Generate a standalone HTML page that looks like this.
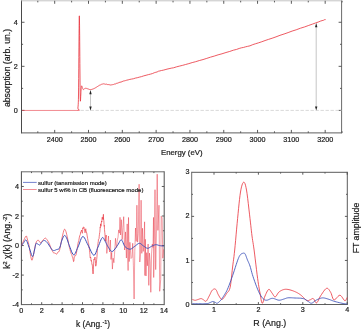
<!DOCTYPE html>
<html><head><meta charset="utf-8"><style>
html,body{margin:0;padding:0;background:#fff;}
body{width:361px;height:329px;overflow:hidden;}
svg{display:block;filter:blur(0.3px);font-family:"Liberation Sans", sans-serif;fill:#111;}
text{fill:#1a1a1a;stroke:#1a1a1a;stroke-width:0.2px;}
</style></head><body>
<svg width="361" height="329" viewBox="0 0 361 329">
<path d="M21.50 0.30V133.40" stroke="#4a4a4a" stroke-width="1.0" fill="none"/>
<path d="M341.60 0.30V133.40" stroke="#6a6a6a" stroke-width="1.0" fill="none"/>
<path d="M21.50 0.80H341.60" stroke="#c4c4c4" stroke-width="1.0" fill="none"/>
<path d="M21.50 132.90H341.60" stroke="#5e5e5e" stroke-width="1.0" fill="none"/>
<line x1="37.80" y1="132.90" x2="37.80" y2="131.30" stroke="#4a4a4a" stroke-width="0.9" />
<line x1="37.80" y1="0.80" x2="37.80" y2="2.40" stroke="#4a4a4a" stroke-width="0.9" />
<line x1="54.70" y1="132.90" x2="54.70" y2="129.90" stroke="#4a4a4a" stroke-width="0.9" />
<line x1="54.70" y1="0.80" x2="54.70" y2="3.80" stroke="#4a4a4a" stroke-width="0.9" />
<line x1="71.61" y1="132.90" x2="71.61" y2="131.30" stroke="#4a4a4a" stroke-width="0.9" />
<line x1="71.61" y1="0.80" x2="71.61" y2="2.40" stroke="#4a4a4a" stroke-width="0.9" />
<line x1="88.51" y1="132.90" x2="88.51" y2="129.90" stroke="#4a4a4a" stroke-width="0.9" />
<line x1="88.51" y1="0.80" x2="88.51" y2="3.80" stroke="#4a4a4a" stroke-width="0.9" />
<line x1="105.42" y1="132.90" x2="105.42" y2="131.30" stroke="#4a4a4a" stroke-width="0.9" />
<line x1="105.42" y1="0.80" x2="105.42" y2="2.40" stroke="#4a4a4a" stroke-width="0.9" />
<line x1="122.32" y1="132.90" x2="122.32" y2="129.90" stroke="#4a4a4a" stroke-width="0.9" />
<line x1="122.32" y1="0.80" x2="122.32" y2="3.80" stroke="#4a4a4a" stroke-width="0.9" />
<line x1="139.23" y1="132.90" x2="139.23" y2="131.30" stroke="#4a4a4a" stroke-width="0.9" />
<line x1="139.23" y1="0.80" x2="139.23" y2="2.40" stroke="#4a4a4a" stroke-width="0.9" />
<line x1="156.13" y1="132.90" x2="156.13" y2="129.90" stroke="#4a4a4a" stroke-width="0.9" />
<line x1="156.13" y1="0.80" x2="156.13" y2="3.80" stroke="#4a4a4a" stroke-width="0.9" />
<line x1="173.04" y1="132.90" x2="173.04" y2="131.30" stroke="#4a4a4a" stroke-width="0.9" />
<line x1="173.04" y1="0.80" x2="173.04" y2="2.40" stroke="#4a4a4a" stroke-width="0.9" />
<line x1="189.94" y1="132.90" x2="189.94" y2="129.90" stroke="#4a4a4a" stroke-width="0.9" />
<line x1="189.94" y1="0.80" x2="189.94" y2="3.80" stroke="#4a4a4a" stroke-width="0.9" />
<line x1="206.85" y1="132.90" x2="206.85" y2="131.30" stroke="#4a4a4a" stroke-width="0.9" />
<line x1="206.85" y1="0.80" x2="206.85" y2="2.40" stroke="#4a4a4a" stroke-width="0.9" />
<line x1="223.75" y1="132.90" x2="223.75" y2="129.90" stroke="#4a4a4a" stroke-width="0.9" />
<line x1="223.75" y1="0.80" x2="223.75" y2="3.80" stroke="#4a4a4a" stroke-width="0.9" />
<line x1="240.66" y1="132.90" x2="240.66" y2="131.30" stroke="#4a4a4a" stroke-width="0.9" />
<line x1="240.66" y1="0.80" x2="240.66" y2="2.40" stroke="#4a4a4a" stroke-width="0.9" />
<line x1="257.56" y1="132.90" x2="257.56" y2="129.90" stroke="#4a4a4a" stroke-width="0.9" />
<line x1="257.56" y1="0.80" x2="257.56" y2="3.80" stroke="#4a4a4a" stroke-width="0.9" />
<line x1="274.47" y1="132.90" x2="274.47" y2="131.30" stroke="#4a4a4a" stroke-width="0.9" />
<line x1="274.47" y1="0.80" x2="274.47" y2="2.40" stroke="#4a4a4a" stroke-width="0.9" />
<line x1="291.37" y1="132.90" x2="291.37" y2="129.90" stroke="#4a4a4a" stroke-width="0.9" />
<line x1="291.37" y1="0.80" x2="291.37" y2="3.80" stroke="#4a4a4a" stroke-width="0.9" />
<line x1="308.28" y1="132.90" x2="308.28" y2="131.30" stroke="#4a4a4a" stroke-width="0.9" />
<line x1="308.28" y1="0.80" x2="308.28" y2="2.40" stroke="#4a4a4a" stroke-width="0.9" />
<line x1="325.18" y1="132.90" x2="325.18" y2="129.90" stroke="#4a4a4a" stroke-width="0.9" />
<line x1="325.18" y1="0.80" x2="325.18" y2="3.80" stroke="#4a4a4a" stroke-width="0.9" />
<line x1="342.08" y1="132.90" x2="342.08" y2="131.30" stroke="#4a4a4a" stroke-width="0.9" />
<line x1="342.08" y1="0.80" x2="342.08" y2="2.40" stroke="#4a4a4a" stroke-width="0.9" />
<text x="54.70" y="142.20" font-size="7.2" text-anchor="middle" >2400</text>
<text x="88.51" y="142.20" font-size="7.2" text-anchor="middle" >2500</text>
<text x="122.32" y="142.20" font-size="7.2" text-anchor="middle" >2600</text>
<text x="156.13" y="142.20" font-size="7.2" text-anchor="middle" >2700</text>
<text x="189.94" y="142.20" font-size="7.2" text-anchor="middle" >2800</text>
<text x="223.75" y="142.20" font-size="7.2" text-anchor="middle" >2900</text>
<text x="257.56" y="142.20" font-size="7.2" text-anchor="middle" >3000</text>
<text x="291.37" y="142.20" font-size="7.2" text-anchor="middle" >3100</text>
<text x="325.18" y="142.20" font-size="7.2" text-anchor="middle" >3200</text>
<line x1="21.50" y1="110.40" x2="24.50" y2="110.40" stroke="#4a4a4a" stroke-width="0.9" />
<line x1="341.60" y1="110.40" x2="338.60" y2="110.40" stroke="#4a4a4a" stroke-width="0.9" />
<line x1="21.50" y1="88.37" x2="23.10" y2="88.37" stroke="#4a4a4a" stroke-width="0.9" />
<line x1="341.60" y1="88.37" x2="340.00" y2="88.37" stroke="#4a4a4a" stroke-width="0.9" />
<line x1="21.50" y1="66.34" x2="24.50" y2="66.34" stroke="#4a4a4a" stroke-width="0.9" />
<line x1="341.60" y1="66.34" x2="338.60" y2="66.34" stroke="#4a4a4a" stroke-width="0.9" />
<line x1="21.50" y1="44.31" x2="23.10" y2="44.31" stroke="#4a4a4a" stroke-width="0.9" />
<line x1="341.60" y1="44.31" x2="340.00" y2="44.31" stroke="#4a4a4a" stroke-width="0.9" />
<line x1="21.50" y1="22.28" x2="24.50" y2="22.28" stroke="#4a4a4a" stroke-width="0.9" />
<line x1="341.60" y1="22.28" x2="338.60" y2="22.28" stroke="#4a4a4a" stroke-width="0.9" />
<text x="17.80" y="113.00" font-size="7.2" text-anchor="end" >0</text>
<text x="17.80" y="68.94" font-size="7.2" text-anchor="end" >2</text>
<text x="17.80" y="24.88" font-size="7.2" text-anchor="end" >4</text>
<text x="10.00" y="68.00" font-size="8.7" text-anchor="middle" transform="rotate(-90 10 68)">absorption (arb. un.)</text>
<text x="181.80" y="155.10" font-size="7.8" text-anchor="middle" >Energy (eV)</text>
<line x1="80.50" y1="110.40" x2="341.60" y2="110.40" stroke="#cfcfcf" stroke-width="0.8" stroke-dasharray="3.4 1.6"/>
<path d="M22.00 110.45H77.2" fill="none" stroke="#ea4a55" stroke-width="0.65"/>
<path d="M77.20 110.40L78.85 110.26L79.40 110.17L79.21 110.01L78.66 109.67L78.10 109.04L77.90 108.00L78.01 106.93L78.11 106.01L78.21 104.79L78.31 102.84L78.41 99.72L78.50 95.00L78.59 87.91L78.68 78.63L78.77 68.19L78.85 57.59L78.93 47.86L79.00 40.00L79.06 33.77L79.11 28.30L79.16 23.69L79.21 20.04L79.25 17.44L79.30 16.00L79.35 15.83L79.40 16.89L79.45 19.00L79.50 22.00L79.55 25.72L79.60 30.00L79.66 35.28L79.71 41.78L79.77 49.00L79.83 56.44L79.89 63.61L79.95 70.00L80.01 75.98L80.06 82.04L80.12 87.81L80.17 92.96L80.23 97.14L80.30 100.00L80.38 101.22L80.46 101.00L80.55 99.81L80.64 98.11L80.72 96.35L80.80 95.00L80.87 93.89L80.94 92.64L81.00 91.33L81.06 90.05L81.13 88.91L81.20 88.00L81.27 87.30L81.35 86.75L81.43 86.32L81.51 86.03L81.60 85.86L81.70 85.80L81.81 85.92L81.94 86.23L82.08 86.66L82.21 87.15L82.36 87.62L82.50 88.00L82.64 88.33L82.78 88.67L82.92 89.00L83.07 89.28L83.23 89.49L83.40 89.60L83.58 89.58L83.77 89.43L83.97 89.22L84.17 88.98L84.38 88.76L84.60 88.60L84.81 88.50L85.03 88.41L85.25 88.35L85.48 88.31L85.73 88.29L86.00 88.30L86.30 88.35L86.61 88.43L86.95 88.54L87.30 88.66L87.65 88.78L88.00 88.90L88.35 89.03L88.70 89.17L89.05 89.33L89.41 89.46L89.80 89.56L90.20 89.60L90.63 89.59L91.08 89.53L91.55 89.44L92.03 89.31L92.51 89.17L93.00 89.00L93.49 88.81L93.99 88.58L94.49 88.33L94.99 88.06L95.50 87.78L96.00 87.53L96.51 87.17L97.02 86.78L97.53 86.49L98.04 86.10L98.53 85.89L99.00 85.73L99.45 85.30L99.89 85.06L100.31 84.96L100.71 84.75L101.11 84.56L101.50 84.31L101.87 84.28L102.22 84.25L102.56 83.97L102.89 84.01L103.24 83.83L103.60 83.87L103.98 83.82L104.36 84.02L104.74 83.97L105.14 84.19L105.56 84.25L106.00 84.28L106.47 84.13L106.96 84.42L107.46 84.56L107.98 84.67L108.49 84.59L109.00 84.75L109.50 84.74L110.00 84.79L110.50 84.99L111.00 84.80L111.50 84.85L112.00 84.89L112.47 84.67L112.89 84.63L113.31 84.54L113.78 84.40L114.33 84.10L115.00 84.01L115.81 83.86L116.73 83.24L117.74 83.12L118.80 82.66L119.90 82.20L121.00 82.10L122.09 81.63L123.17 81.10L124.28 80.89L125.47 80.59L126.76 80.16L128.20 79.87L129.80 79.40L131.53 79.08L133.37 78.75L135.29 78.11L137.28 77.73L139.30 77.15L141.44 76.64L143.73 75.87L146.09 75.26L148.41 74.62L150.61 74.09L152.60 73.51L154.30 72.73L155.77 72.29L157.12 71.96L158.45 71.23L159.88 70.93L161.50 70.49L163.27 70.17L165.09 69.68L167.00 69.14L169.04 68.68L171.26 68.17L173.70 67.75L176.38 66.88L179.27 66.15L182.33 65.42L185.53 64.53L188.84 63.62L192.20 62.59L195.67 61.69L199.30 60.55L203.02 59.57L206.79 58.36L210.57 57.13L214.30 56.07L218.09 54.83L222.01 53.79L225.94 52.52L229.74 51.45L233.30 50.21L236.50 49.43L239.20 48.46L241.46 47.81L243.48 47.44L245.45 46.85L247.56 46.36L250.00 45.82L252.73 44.65L255.61 43.72L258.62 42.80L261.77 41.75L265.06 40.56L268.50 39.38L272.14 38.22L275.99 36.87L279.99 35.32L284.05 34.00L288.11 32.59L292.10 31.09L296.18 29.80L300.44 28.21L304.70 26.90L308.77 25.40L312.47 24.10L315.60 22.94L318.16 22.09L320.30 21.16L322.07 20.62L323.51 20.27L324.67 19.61L325.60 19.58" fill="none" stroke="#e8303a" stroke-width="0.8" stroke-linejoin="round"/>
<line x1="90.50" y1="93.50" x2="90.50" y2="107.30" stroke="#a0a0a0" stroke-width="0.6" />
<path d="M90.50 90.00L89.30 94.20L91.70 94.20Z" fill="#222"/>
<path d="M90.50 110.80L89.30 106.60L91.70 106.60Z" fill="#222"/>
<line x1="316.20" y1="26.50" x2="316.20" y2="107.10" stroke="#a0a0a0" stroke-width="0.6" />
<path d="M316.20 23.00L315.00 27.20L317.40 27.20Z" fill="#222"/>
<path d="M316.20 110.60L315.00 106.40L317.40 106.40Z" fill="#222"/>
<path d="M21.40 171.30V305.10" stroke="#4a4a4a" stroke-width="1.0" fill="none"/>
<path d="M164.20 171.30V305.10" stroke="#4e4e4e" stroke-width="1.0" fill="none"/>
<path d="M21.40 171.80H164.20" stroke="#6a6a6a" stroke-width="1.0" fill="none"/>
<path d="M21.40 304.60H164.20" stroke="#5e5e5e" stroke-width="1.0" fill="none"/>
<line x1="31.50" y1="304.60" x2="31.50" y2="303.30" stroke="#4a4a4a" stroke-width="0.9" />
<line x1="31.50" y1="171.80" x2="31.50" y2="173.10" stroke="#4a4a4a" stroke-width="0.9" />
<line x1="41.70" y1="304.60" x2="41.70" y2="302.20" stroke="#4a4a4a" stroke-width="0.9" />
<line x1="41.70" y1="171.80" x2="41.70" y2="174.20" stroke="#4a4a4a" stroke-width="0.9" />
<line x1="51.90" y1="304.60" x2="51.90" y2="303.30" stroke="#4a4a4a" stroke-width="0.9" />
<line x1="51.90" y1="171.80" x2="51.90" y2="173.10" stroke="#4a4a4a" stroke-width="0.9" />
<line x1="62.10" y1="304.60" x2="62.10" y2="302.20" stroke="#4a4a4a" stroke-width="0.9" />
<line x1="62.10" y1="171.80" x2="62.10" y2="174.20" stroke="#4a4a4a" stroke-width="0.9" />
<line x1="72.30" y1="304.60" x2="72.30" y2="303.30" stroke="#4a4a4a" stroke-width="0.9" />
<line x1="72.30" y1="171.80" x2="72.30" y2="173.10" stroke="#4a4a4a" stroke-width="0.9" />
<line x1="82.50" y1="304.60" x2="82.50" y2="302.20" stroke="#4a4a4a" stroke-width="0.9" />
<line x1="82.50" y1="171.80" x2="82.50" y2="174.20" stroke="#4a4a4a" stroke-width="0.9" />
<line x1="92.70" y1="304.60" x2="92.70" y2="303.30" stroke="#4a4a4a" stroke-width="0.9" />
<line x1="92.70" y1="171.80" x2="92.70" y2="173.10" stroke="#4a4a4a" stroke-width="0.9" />
<line x1="102.90" y1="304.60" x2="102.90" y2="302.20" stroke="#4a4a4a" stroke-width="0.9" />
<line x1="102.90" y1="171.80" x2="102.90" y2="174.20" stroke="#4a4a4a" stroke-width="0.9" />
<line x1="113.10" y1="304.60" x2="113.10" y2="303.30" stroke="#4a4a4a" stroke-width="0.9" />
<line x1="113.10" y1="171.80" x2="113.10" y2="173.10" stroke="#4a4a4a" stroke-width="0.9" />
<line x1="123.30" y1="304.60" x2="123.30" y2="302.20" stroke="#4a4a4a" stroke-width="0.9" />
<line x1="123.30" y1="171.80" x2="123.30" y2="174.20" stroke="#4a4a4a" stroke-width="0.9" />
<line x1="133.50" y1="304.60" x2="133.50" y2="303.30" stroke="#4a4a4a" stroke-width="0.9" />
<line x1="133.50" y1="171.80" x2="133.50" y2="173.10" stroke="#4a4a4a" stroke-width="0.9" />
<line x1="143.70" y1="304.60" x2="143.70" y2="302.20" stroke="#4a4a4a" stroke-width="0.9" />
<line x1="143.70" y1="171.80" x2="143.70" y2="174.20" stroke="#4a4a4a" stroke-width="0.9" />
<line x1="153.90" y1="304.60" x2="153.90" y2="303.30" stroke="#4a4a4a" stroke-width="0.9" />
<line x1="153.90" y1="171.80" x2="153.90" y2="173.10" stroke="#4a4a4a" stroke-width="0.9" />
<text x="21.30" y="313.00" font-size="7.2" text-anchor="middle" >0</text>
<text x="41.70" y="313.00" font-size="7.2" text-anchor="middle" >2</text>
<text x="62.10" y="313.00" font-size="7.2" text-anchor="middle" >4</text>
<text x="82.50" y="313.00" font-size="7.2" text-anchor="middle" >6</text>
<text x="102.90" y="313.00" font-size="7.2" text-anchor="middle" >8</text>
<text x="123.30" y="313.00" font-size="7.2" text-anchor="middle" >10</text>
<text x="143.70" y="313.00" font-size="7.2" text-anchor="middle" >12</text>
<text x="164.10" y="313.00" font-size="7.2" text-anchor="middle" >14</text>
<line x1="21.40" y1="289.86" x2="22.70" y2="289.86" stroke="#4a4a4a" stroke-width="0.9" />
<line x1="164.20" y1="289.86" x2="162.90" y2="289.86" stroke="#4a4a4a" stroke-width="0.9" />
<line x1="21.40" y1="275.09" x2="23.80" y2="275.09" stroke="#4a4a4a" stroke-width="0.9" />
<line x1="164.20" y1="275.09" x2="161.80" y2="275.09" stroke="#4a4a4a" stroke-width="0.9" />
<line x1="21.40" y1="260.32" x2="22.70" y2="260.32" stroke="#4a4a4a" stroke-width="0.9" />
<line x1="164.20" y1="260.32" x2="162.90" y2="260.32" stroke="#4a4a4a" stroke-width="0.9" />
<line x1="21.40" y1="245.55" x2="23.80" y2="245.55" stroke="#4a4a4a" stroke-width="0.9" />
<line x1="164.20" y1="245.55" x2="161.80" y2="245.55" stroke="#4a4a4a" stroke-width="0.9" />
<line x1="21.40" y1="230.78" x2="22.70" y2="230.78" stroke="#4a4a4a" stroke-width="0.9" />
<line x1="164.20" y1="230.78" x2="162.90" y2="230.78" stroke="#4a4a4a" stroke-width="0.9" />
<line x1="21.40" y1="216.01" x2="23.80" y2="216.01" stroke="#4a4a4a" stroke-width="0.9" />
<line x1="164.20" y1="216.01" x2="161.80" y2="216.01" stroke="#4a4a4a" stroke-width="0.9" />
<line x1="21.40" y1="201.24" x2="22.70" y2="201.24" stroke="#4a4a4a" stroke-width="0.9" />
<line x1="164.20" y1="201.24" x2="162.90" y2="201.24" stroke="#4a4a4a" stroke-width="0.9" />
<line x1="21.40" y1="186.47" x2="23.80" y2="186.47" stroke="#4a4a4a" stroke-width="0.9" />
<line x1="164.20" y1="186.47" x2="161.80" y2="186.47" stroke="#4a4a4a" stroke-width="0.9" />
<text x="18.90" y="307.23" font-size="7.2" text-anchor="end" ><tspan dy="-0.6">-</tspan><tspan dy="0.6" dx="0.1">4</tspan></text>
<text x="18.90" y="277.69" font-size="7.2" text-anchor="end" ><tspan dy="-0.6">-</tspan><tspan dy="0.6" dx="0.1">2</tspan></text>
<text x="18.90" y="248.15" font-size="7.2" text-anchor="end" >0</text>
<text x="18.90" y="218.61" font-size="7.2" text-anchor="end" >2</text>
<text x="18.90" y="189.07" font-size="7.2" text-anchor="end" >4</text>
<path d="M21.50 245.80L21.76 245.15L22.13 244.24L22.56 243.16L23.03 242.05L23.50 241.00L24.00 239.88L24.56 238.63L25.13 237.43L25.66 236.49L26.10 236.00L26.42 236.03L26.65 236.44L26.84 237.14L27.04 238.03L27.30 239.00L27.63 240.08L28.00 241.33L28.38 242.72L28.76 244.23L29.10 245.80L29.41 247.55L29.69 249.49L29.96 251.49L30.23 253.37L30.50 255.00L30.78 256.46L31.06 257.86L31.35 259.06L31.63 259.92L31.90 260.30L32.17 260.05L32.45 259.26L32.72 258.16L32.97 256.99L33.20 256.00L33.37 255.26L33.50 254.63L33.62 253.96L33.77 253.13L34.00 252.00L34.32 250.39L34.70 248.38L35.13 246.25L35.57 244.30L36.00 242.80L36.43 241.77L36.86 241.04L37.30 240.55L37.75 240.28L38.20 240.20L38.66 240.47L39.13 241.10L39.60 241.86L40.06 242.51L40.50 242.80L40.91 242.65L41.29 242.23L41.67 241.66L42.07 241.04L42.50 240.50L43.00 239.99L43.55 239.43L44.12 238.90L44.65 238.46L45.10 238.20L45.44 238.11L45.70 238.15L45.93 238.32L46.18 238.60L46.50 239.00L46.92 239.55L47.40 240.24L47.91 241.04L48.42 241.90L48.90 242.80L49.33 243.76L49.75 244.80L50.15 245.89L50.57 246.97L51.00 248.00L51.47 249.04L51.98 250.13L52.48 251.16L52.97 252.05L53.40 252.70L53.77 253.03L54.10 253.09L54.41 253.03L54.70 252.95L55.00 253.00L55.31 253.24L55.61 253.58L55.90 253.92L56.20 254.16L56.50 254.20L56.80 253.97L57.10 253.54L57.40 253.00L57.70 252.46L58.00 252.00L58.28 251.81L58.55 251.84L58.83 251.79L59.14 251.40L59.50 250.40L59.94 248.54L60.45 246.01L60.98 243.17L61.51 240.38L62.00 238.00L62.46 235.96L62.90 234.03L63.32 232.30L63.72 230.89L64.10 229.90L64.43 229.37L64.72 229.22L65.00 229.42L65.28 229.89L65.60 230.60L65.95 231.62L66.33 232.98L66.72 234.57L67.11 236.28L67.50 238.00L67.88 239.81L68.27 241.80L68.66 243.82L69.04 245.73L69.40 247.40L69.74 248.79L70.06 249.52L70.37 251.26L70.68 251.81L71.00 253.21L71.33 253.93L71.66 254.27L72.00 255.77L72.31 256.58L72.60 256.98L72.86 257.97L73.09 259.24L73.31 260.20L73.51 261.62L73.70 261.45L73.87 261.05L74.01 259.66L74.14 258.23L74.30 256.64L74.50 256.34L74.75 255.62L75.03 256.01L75.33 255.90L75.66 255.58L76.00 254.91L76.37 253.25L76.76 251.23L77.18 248.61L77.59 246.13L78.00 243.50L78.41 241.69L78.82 240.67L79.24 237.87L79.63 235.99L80.00 235.15L80.34 234.44L80.67 232.05L80.97 231.83L81.25 231.02L81.50 230.09L81.71 231.52L81.88 231.69L82.02 232.45L82.16 232.54L82.30 233.25L82.44 232.08L82.57 231.21L82.70 229.39L82.84 228.13L83.00 228.78L83.18 227.21L83.38 227.37L83.59 227.03L83.80 226.84L84.00 227.08L84.20 228.50L84.40 228.99L84.60 230.29L84.80 231.43L85.00 232.79L85.18 232.30L85.35 231.36L85.53 229.86L85.74 228.76L86.00 230.68L86.34 231.94L86.75 233.03L87.19 235.84L87.62 238.43L88.00 240.67L88.34 242.79L88.66 243.71L88.96 247.44L89.24 247.05L89.50 250.76L89.72 252.20L89.91 254.22L90.09 256.73L90.28 257.90L90.50 256.97L90.77 257.74L91.08 261.08L91.40 260.48L91.72 262.55L92.00 264.76L92.25 264.65L92.49 266.95L92.71 271.76L92.91 273.57L93.10 273.98L93.26 273.10L93.38 269.76L93.50 266.00L93.63 264.12L93.80 261.13L94.01 259.00L94.25 259.69L94.51 258.29L94.76 258.27L95.00 257.11L95.20 258.69L95.38 260.80L95.56 263.46L95.76 266.20L96.00 265.30L96.30 263.87L96.65 259.62L97.02 256.09L97.37 248.15L97.70 246.50L97.99 243.28L98.26 241.71L98.52 239.19L98.77 238.94L99.00 238.67L99.22 236.28L99.43 234.70L99.63 232.66L99.82 232.39L100.00 229.98L100.17 226.98L100.32 227.54L100.48 225.71L100.63 223.87L100.80 225.52L101.00 226.25L101.21 224.06L101.43 221.91L101.64 221.10L101.80 222.02L101.91 220.20L101.98 219.13L102.04 218.14L102.10 217.53L102.20 217.82L102.34 217.69L102.51 217.90L102.69 217.41L102.86 219.33L103.00 218.38L103.10 219.41L103.17 216.17L103.23 216.03L103.30 215.38L103.40 214.31L103.54 218.29L103.70 220.13L103.87 220.89L104.04 224.53L104.20 226.34L104.35 225.44L104.49 229.70L104.63 231.01L104.77 232.64L104.90 233.03L105.02 235.25L105.14 236.86L105.26 239.49L105.38 239.77L105.50 240.00L105.64 241.15L105.81 238.43L105.97 237.44L106.10 235.07L106.20 237.41" fill="none" stroke="#e8303a" stroke-width="0.65" stroke-linejoin="round"/>
<path d="M106.20 237.41L106.80 253.42L107.40 248.00L108.50 236.00L108.90 246.62L109.60 252.00L110.40 240.00L111.00 259.46L111.70 252.31L112.40 269.10L113.10 258.17L113.90 262.70L114.50 254.41L115.50 238.30L115.90 243.96L116.60 247.60L117.30 240.07L118.00 237.29L118.70 229.86L119.40 233.12L120.00 217.30L120.60 235.00L121.30 219.70L122.20 239.60L122.90 227.83L123.70 216.70L124.60 250.00L125.00 245.58L125.50 231.90L126.40 258.05L127.20 223.90L128.10 270.50L128.50 217.44L129.20 261.57L129.90 242.29L131.00 258.50L132.00 257.40L132.70 243.27L133.40 265.75L134.10 299.00L134.80 251.25L135.50 228.01L136.20 241.41L136.90 205.20L137.60 242.13L138.30 233.67L139.10 184.20L139.80 262.00L140.40 254.20L141.10 200.20L141.80 253.37L142.50 228.24L143.20 251.45L143.90 245.59L144.60 221.80L144.90 275.50L145.30 239.29L146.00 276.03L146.70 252.68L147.40 265.78L148.10 244.03L148.80 285.40L149.50 253.11L150.20 261.81L150.80 292.30L151.60 253.08L152.30 243.98L153.00 247.45L153.50 217.40L153.70 277.50L154.40 239.85L155.00 189.70L155.70 269.60L156.50 228.97L157.20 174.20L157.90 230.38L159.00 205.20L159.70 291.30L160.70 279.50L161.20 216.30L162.10 217.84L162.80 258.24L163.50 249.33" fill="none" stroke="#e62838" stroke-width="0.45" stroke-linejoin="round"/>
<path d="M21.50 245.50L21.71 245.23L22.00 244.87L22.34 244.44L22.71 243.96L23.11 243.47L23.50 243.00L23.89 242.41L24.31 241.65L24.74 240.88L25.18 240.25L25.64 239.90L26.10 240.00L26.57 240.61L27.06 241.63L27.55 242.94L28.06 244.42L28.57 245.95L29.10 247.40L29.66 249.00L30.26 250.89L30.86 252.82L31.46 254.56L32.01 255.87L32.50 256.50L32.92 256.32L33.29 255.49L33.62 254.22L33.92 252.74L34.21 251.26L34.50 250.00L34.77 248.85L35.02 247.60L35.25 246.36L35.48 245.21L35.73 244.26L36.00 243.60L36.31 243.29L36.64 243.27L36.98 243.45L37.33 243.73L37.67 244.01L38.00 244.20L38.31 244.37L38.60 244.59L38.89 244.82L39.18 245.01L39.48 245.08L39.80 245.00L40.14 244.70L40.50 244.23L40.87 243.64L41.24 243.03L41.62 242.46L42.00 242.00L42.37 241.62L42.73 241.25L43.09 240.92L43.47 240.66L43.87 240.51L44.30 240.50L44.75 240.61L45.22 240.82L45.71 241.13L46.23 241.56L46.79 242.11L47.40 242.80L48.10 243.74L48.89 244.95L49.71 246.29L50.53 247.60L51.27 248.76L51.90 249.60L52.38 250.11L52.76 250.40L53.07 250.53L53.36 250.55L53.65 250.52L54.00 250.50L54.39 250.46L54.79 250.36L55.19 250.20L55.61 250.01L56.05 249.81L56.50 249.60L56.98 249.46L57.48 249.39L58.00 249.30L58.52 249.11L59.02 248.74L59.50 248.10L59.94 247.09L60.37 245.76L60.77 244.24L61.18 242.69L61.58 241.22L62.00 240.00L62.43 238.94L62.87 237.90L63.31 236.97L63.74 236.20L64.18 235.65L64.60 235.40L65.01 235.49L65.41 235.87L65.81 236.49L66.21 237.26L66.60 238.12L67.00 239.00L67.38 239.92L67.73 240.95L68.08 242.06L68.46 243.25L68.89 244.50L69.40 245.80L70.01 247.37L70.69 249.26L71.43 251.21L72.20 252.96L72.96 254.25L73.70 254.80L74.41 254.50L75.11 253.54L75.82 252.12L76.53 250.42L77.25 248.65L78.00 247.00L78.77 245.19L79.55 243.00L80.34 240.73L81.15 238.69L81.97 237.18L82.80 236.50L83.64 236.80L84.48 237.86L85.34 239.45L86.21 241.33L87.09 243.26L88.00 245.00L88.95 246.83L89.95 248.99L90.96 251.20L91.96 253.18L92.92 254.64L93.80 255.30L94.59 255.00L95.32 253.95L96.00 252.38L96.66 250.53L97.32 248.66L98.00 247.00L98.72 245.36L99.45 243.51L100.19 241.62L100.90 239.90L101.58 238.53L102.20 237.70L102.75 237.50L103.23 237.79L103.68 238.42L104.11 239.27L104.54 240.18L105.00 241.00L105.46 241.80L105.91 242.69L106.36 243.64L106.83 244.62L107.33 245.59L107.90 246.50L108.52 247.49L109.19 248.62L109.89 249.74L110.63 250.69L111.40 251.33L112.20 251.50L113.06 251.09L113.98 250.20L114.94 249.00L115.89 247.65L116.79 246.33L117.60 245.20L118.32 244.11L118.96 242.88L119.56 241.68L120.13 240.66L120.70 239.98L121.30 239.80L121.90 240.28L122.49 241.32L123.07 242.70L123.67 244.19L124.31 245.57L125.00 246.60L125.76 247.34L126.59 247.97L127.45 248.49L128.32 248.88L129.18 249.12L130.00 249.20L130.77 249.06L131.52 248.71L132.26 248.21L132.99 247.63L133.73 247.04L134.50 246.50L135.30 245.93L136.13 245.25L136.98 244.56L137.81 243.95L138.62 243.50L139.40 243.30L140.13 243.41L140.82 243.78L141.49 244.31L142.16 244.91L142.82 245.50L143.50 246.00L144.19 246.46L144.89 246.97L145.59 247.46L146.29 247.89L146.99 248.19L147.70 248.30L148.41 248.17L149.14 247.84L149.86 247.38L150.59 246.86L151.30 246.38L152.00 246.00L152.68 245.70L153.36 245.41L154.02 245.14L154.68 244.93L155.34 244.77L156.00 244.70L156.67 244.74L157.33 244.89L158.00 245.10L158.67 245.33L159.33 245.55L160.00 245.70L160.71 245.79L161.48 245.86L162.25 245.91L162.96 245.95L163.56 245.98L164.00 246.00" fill="none" stroke="#3a4fb8" stroke-width="1.0" stroke-linejoin="round"/>
<line x1="23.00" y1="182.40" x2="36.70" y2="182.40" stroke="#4455bb" stroke-width="0.75" />
<line x1="23.00" y1="189.50" x2="36.70" y2="189.50" stroke="#ee6a74" stroke-width="0.75" />
<text x="38.00" y="185.00" font-size="6" text-anchor="start" style="stroke-width:0.2px">sulfur (tansmission mode)</text>
<text x="38.00" y="192.00" font-size="6" text-anchor="start" style="stroke-width:0.2px">sulfur 5 wt% in CB (fluorescence mode)</text>
<text x="93.0" y="327.2" font-size="8.4" text-anchor="middle">k (Ang.<tspan font-size="5.5" dy="-3.5">-1</tspan><tspan dy="3.5">)</tspan></text>
<text transform="rotate(-90 10.5 241.2)" x="10.5" y="241.2" font-size="8.6" text-anchor="middle">k<tspan font-size="5.5" dy="-3.5">2</tspan><tspan dy="3.5"> χ(k) (Ang.</tspan><tspan font-size="5.5" dy="-3.5">-2</tspan><tspan dy="3.5">)</tspan></text>
<path d="M191.70 171.80V305.00" stroke="#6a6a6a" stroke-width="1.0" fill="none"/>
<path d="M347.30 171.80V305.00" stroke="#5a5a5a" stroke-width="1.0" fill="none"/>
<path d="M191.70 172.30H347.30" stroke="#5a5a5a" stroke-width="1.0" fill="none"/>
<path d="M191.70 304.50H347.30" stroke="#5e5e5e" stroke-width="1.0" fill="none"/>
<line x1="214.00" y1="304.50" x2="214.00" y2="302.10" stroke="#4a4a4a" stroke-width="0.9" />
<line x1="214.00" y1="172.30" x2="214.00" y2="174.70" stroke="#4a4a4a" stroke-width="0.9" />
<line x1="236.20" y1="304.50" x2="236.20" y2="303.20" stroke="#4a4a4a" stroke-width="0.9" />
<line x1="236.20" y1="172.30" x2="236.20" y2="173.60" stroke="#4a4a4a" stroke-width="0.9" />
<line x1="258.40" y1="304.50" x2="258.40" y2="302.10" stroke="#4a4a4a" stroke-width="0.9" />
<line x1="258.40" y1="172.30" x2="258.40" y2="174.70" stroke="#4a4a4a" stroke-width="0.9" />
<line x1="280.60" y1="304.50" x2="280.60" y2="303.20" stroke="#4a4a4a" stroke-width="0.9" />
<line x1="280.60" y1="172.30" x2="280.60" y2="173.60" stroke="#4a4a4a" stroke-width="0.9" />
<line x1="302.80" y1="304.50" x2="302.80" y2="302.10" stroke="#4a4a4a" stroke-width="0.9" />
<line x1="302.80" y1="172.30" x2="302.80" y2="174.70" stroke="#4a4a4a" stroke-width="0.9" />
<line x1="325.00" y1="304.50" x2="325.00" y2="303.20" stroke="#4a4a4a" stroke-width="0.9" />
<line x1="325.00" y1="172.30" x2="325.00" y2="173.60" stroke="#4a4a4a" stroke-width="0.9" />
<line x1="347.20" y1="304.50" x2="347.20" y2="302.10" stroke="#4a4a4a" stroke-width="0.9" />
<line x1="347.20" y1="172.30" x2="347.20" y2="174.70" stroke="#4a4a4a" stroke-width="0.9" />
<text x="214.00" y="312.30" font-size="7.2" text-anchor="middle" >1</text>
<text x="258.40" y="312.30" font-size="7.2" text-anchor="middle" >2</text>
<text x="302.80" y="312.30" font-size="7.2" text-anchor="middle" >3</text>
<text x="347.20" y="312.30" font-size="7.2" text-anchor="middle" >4</text>
<line x1="191.70" y1="282.46" x2="193.00" y2="282.46" stroke="#4a4a4a" stroke-width="0.9" />
<line x1="347.30" y1="282.46" x2="346.00" y2="282.46" stroke="#4a4a4a" stroke-width="0.9" />
<line x1="191.70" y1="260.43" x2="194.10" y2="260.43" stroke="#4a4a4a" stroke-width="0.9" />
<line x1="347.30" y1="260.43" x2="344.90" y2="260.43" stroke="#4a4a4a" stroke-width="0.9" />
<line x1="191.70" y1="238.39" x2="193.00" y2="238.39" stroke="#4a4a4a" stroke-width="0.9" />
<line x1="347.30" y1="238.39" x2="346.00" y2="238.39" stroke="#4a4a4a" stroke-width="0.9" />
<line x1="191.70" y1="216.36" x2="194.10" y2="216.36" stroke="#4a4a4a" stroke-width="0.9" />
<line x1="347.30" y1="216.36" x2="344.90" y2="216.36" stroke="#4a4a4a" stroke-width="0.9" />
<line x1="191.70" y1="194.32" x2="193.00" y2="194.32" stroke="#4a4a4a" stroke-width="0.9" />
<line x1="347.30" y1="194.32" x2="346.00" y2="194.32" stroke="#4a4a4a" stroke-width="0.9" />
<text x="189.50" y="306.60" font-size="7.2" text-anchor="end" >0</text>
<text x="189.50" y="262.53" font-size="7.2" text-anchor="end" >1</text>
<text x="189.50" y="218.46" font-size="7.2" text-anchor="end" >2</text>
<text x="189.50" y="174.39" font-size="7.2" text-anchor="end" >3</text>
<path d="M192.30 299.40L192.60 299.52L193.02 299.70L193.52 299.90L194.06 300.09L194.60 300.24L195.10 300.30L195.58 300.27L196.05 300.16L196.53 300.01L197.01 299.84L197.50 299.66L198.00 299.50L198.51 299.33L199.04 299.13L199.58 298.93L200.11 298.75L200.62 298.63L201.10 298.60L201.54 298.68L201.94 298.84L202.32 299.06L202.70 299.31L203.09 299.57L203.50 299.80L203.92 300.09L204.35 300.49L204.79 300.89L205.24 301.20L205.71 301.30L206.20 301.10L206.74 300.52L207.32 299.62L207.92 298.53L208.51 297.34L209.08 296.20L209.60 295.20L210.05 294.31L210.46 293.43L210.84 292.58L211.21 291.79L211.59 291.09L212.00 290.50L212.44 290.02L212.91 289.62L213.39 289.31L213.86 289.08L214.30 288.95L214.70 288.90L215.05 288.96L215.37 289.11L215.67 289.36L215.95 289.69L216.22 290.07L216.50 290.50L216.76 290.99L216.98 291.56L217.20 292.18L217.44 292.86L217.73 293.57L218.10 294.30L218.57 295.16L219.13 296.16L219.74 297.21L220.37 298.17L220.96 298.94L221.50 299.40L221.97 299.51L222.40 299.36L222.80 299.02L223.19 298.55L223.59 298.02L224.00 297.50L224.42 296.98L224.83 296.40L225.24 295.76L225.66 295.06L226.11 294.31L226.60 293.50L227.14 292.78L227.74 292.19L228.36 291.53L228.97 290.65L229.56 289.36L230.10 287.50L230.58 284.88L231.02 281.61L231.44 277.94L231.83 274.11L232.22 270.38L232.60 267.00L232.96 264.13L233.30 261.61L233.62 259.19L233.96 256.61L234.31 253.63L234.70 250.00L235.14 245.53L235.61 240.39L236.10 234.84L236.60 229.17L237.11 223.63L237.60 218.50L238.08 213.60L238.56 208.68L239.04 203.89L239.52 199.41L240.01 195.39L240.50 192.00L241.01 189.20L241.53 186.84L242.05 184.96L242.57 183.54L243.09 182.62L243.60 182.20L244.09 182.24L244.56 182.73L245.02 183.71L245.50 185.21L245.98 187.30L246.50 190.00L247.07 193.68L247.68 198.37L248.31 203.64L248.92 209.05L249.50 214.15L250.00 218.50L250.42 222.09L250.77 225.28L251.09 228.16L251.38 230.83L251.68 233.41L252.00 236.00L252.33 238.37L252.64 240.40L252.96 242.33L253.29 244.40L253.67 246.88L254.10 250.00L254.62 254.05L255.20 258.88L255.83 264.11L256.46 269.34L257.06 274.20L257.60 278.30L258.07 281.59L258.49 284.37L258.88 286.77L259.26 288.93L259.62 290.96L260.00 293.00L260.37 295.17L260.73 297.41L261.07 299.53L261.43 301.33L261.80 302.65L262.20 303.30L262.62 303.09L263.06 302.14L263.51 300.71L263.98 299.03L264.47 297.38L265.00 296.00L265.57 294.74L266.18 293.37L266.82 292.02L267.46 290.82L268.10 289.90L268.70 289.40L269.27 289.41L269.83 289.83L270.38 290.54L270.92 291.40L271.46 292.26L272.00 293.00L272.53 293.73L273.05 294.60L273.57 295.48L274.09 296.24L274.63 296.76L275.20 296.90L275.78 296.57L276.36 295.83L276.96 294.86L277.59 293.79L278.27 292.79L279.00 292.00L279.81 291.40L280.67 290.85L281.59 290.36L282.53 289.95L283.47 289.63L284.40 289.40L285.31 289.28L286.21 289.26L287.12 289.33L288.05 289.47L289.01 289.67L290.00 289.90L291.06 290.19L292.19 290.56L293.34 290.97L294.48 291.43L295.58 291.91L296.60 292.40L297.53 292.89L298.39 293.39L299.20 293.91L299.99 294.47L300.79 295.06L301.60 295.70L302.45 296.46L303.33 297.36L304.20 298.29L305.05 299.17L305.86 299.90L306.60 300.40L307.26 300.63L307.86 300.65L308.41 300.52L308.93 300.32L309.46 300.09L310.00 299.90L310.56 299.66L311.11 299.32L311.66 298.95L312.20 298.65L312.75 298.50L313.30 298.60L313.84 299.13L314.37 300.04L314.90 301.12L315.44 302.11L316.00 302.78L316.60 302.90L317.22 302.37L317.84 301.36L318.49 300.03L319.17 298.54L319.90 297.04L320.70 295.70L321.60 294.35L322.60 292.82L323.65 291.29L324.70 289.92L325.70 288.87L326.60 288.30L327.40 288.28L328.13 288.69L328.81 289.42L329.46 290.36L330.08 291.39L330.70 292.40L331.27 293.59L331.76 295.10L332.24 296.70L332.74 298.18L333.31 299.32L334.00 299.90L334.84 299.70L335.81 298.86L336.85 297.67L337.91 296.46L338.94 295.53L339.90 295.20L340.80 295.63L341.70 296.60L342.57 297.86L343.39 299.14L344.14 300.17L344.80 300.70L345.37 300.62L345.87 300.13L346.31 299.39L346.67 298.58L346.97 297.86L347.20 297.40" fill="none" stroke="#e8303a" stroke-width="0.8" stroke-linejoin="round"/>
<path d="M192.30 303.70L193.15 303.71L194.32 303.73L195.71 303.76L197.20 303.78L198.67 303.79L200.00 303.80L201.25 303.81L202.53 303.82L203.79 303.82L204.99 303.81L206.07 303.78L207.00 303.70L207.73 303.57L208.30 303.41L208.75 303.21L209.15 303.00L209.55 302.79L210.00 302.60L210.51 302.39L211.02 302.16L211.53 301.92L212.04 301.71L212.53 301.56L213.00 301.50L213.45 301.55L213.90 301.69L214.33 301.89L214.74 302.11L215.13 302.33L215.50 302.50L215.82 302.68L216.09 302.89L216.34 303.09L216.61 303.24L216.92 303.30L217.30 303.20L217.78 302.95L218.32 302.57L218.91 302.09L219.51 301.54L220.12 300.93L220.70 300.30L221.25 299.63L221.80 298.90L222.34 298.11L222.89 297.28L223.44 296.41L224.00 295.50L224.55 294.62L225.09 293.78L225.64 292.90L226.21 291.90L226.82 290.69L227.50 289.20L228.26 287.38L229.08 285.27L229.95 282.97L230.84 280.54L231.73 278.06L232.60 275.60L233.48 273.02L234.40 270.22L235.31 267.38L236.19 264.64L237.00 262.20L237.70 260.20L238.27 258.70L238.72 257.58L239.11 256.74L239.46 256.10L239.81 255.55L240.20 255.00L240.63 254.49L241.07 254.09L241.52 253.79L241.96 253.57L242.39 253.42L242.80 253.30L243.19 253.19L243.56 253.10L243.91 253.07L244.27 253.14L244.63 253.37L245.00 253.80L245.39 254.48L245.78 255.39L246.18 256.44L246.58 257.58L246.99 258.72L247.40 259.80L247.82 260.77L248.24 261.69L248.66 262.62L249.10 263.61L249.54 264.72L250.00 266.00L250.45 267.45L250.88 269.02L251.32 270.71L251.80 272.52L252.35 274.45L253.00 276.50L253.78 278.80L254.68 281.39L255.65 284.09L256.64 286.76L257.61 289.21L258.50 291.30L259.33 293.03L260.13 294.53L260.91 295.83L261.66 296.94L262.39 297.89L263.10 298.70L263.76 299.33L264.36 299.76L264.94 300.03L265.54 300.17L266.18 300.22L266.90 300.20L267.71 300.04L268.57 299.68L269.48 299.23L270.43 298.78L271.41 298.44L272.40 298.30L273.44 298.43L274.54 298.77L275.67 299.21L276.80 299.66L277.89 300.02L278.90 300.20L279.84 300.18L280.74 300.03L281.60 299.79L282.43 299.51L283.22 299.24L284.00 299.00L284.71 298.78L285.34 298.55L285.94 298.31L286.56 298.10L287.27 297.92L288.10 297.80L289.07 297.75L290.14 297.75L291.29 297.79L292.49 297.85L293.74 297.93L295.00 298.00L296.34 298.05L297.79 298.09L299.27 298.13L300.73 298.21L302.09 298.36L303.30 298.60L304.34 298.96L305.27 299.44L306.11 299.98L306.88 300.54L307.60 301.06L308.30 301.50L308.93 301.91L309.46 302.34L309.95 302.74L310.44 303.05L310.97 303.22L311.60 303.20L312.33 302.92L313.11 302.42L313.94 301.78L314.81 301.09L315.70 300.43L316.60 299.90L317.52 299.45L318.47 299.02L319.45 298.62L320.44 298.28L321.42 298.03L322.40 297.90L323.36 297.90L324.30 298.02L325.24 298.23L326.20 298.49L327.18 298.79L328.20 299.10L329.25 299.44L330.31 299.83L331.39 300.25L332.51 300.69L333.68 301.11L334.90 301.50L336.24 301.87L337.71 302.25L339.22 302.62L340.69 302.96L342.05 303.26L343.20 303.50L344.16 303.68L345.00 303.80L345.72 303.88L346.32 303.93L346.81 303.96L347.20 304.00" fill="none" stroke="#3a4fb8" stroke-width="0.85" stroke-linejoin="round"/>
<text x="269.80" y="325.80" font-size="8.9" text-anchor="middle" >R (Ang.)</text>
<text x="358.50" y="228.00" font-size="8.7" text-anchor="middle" transform="rotate(-90 358.5 228)">FT amplitude</text>
</svg>
</body></html>
